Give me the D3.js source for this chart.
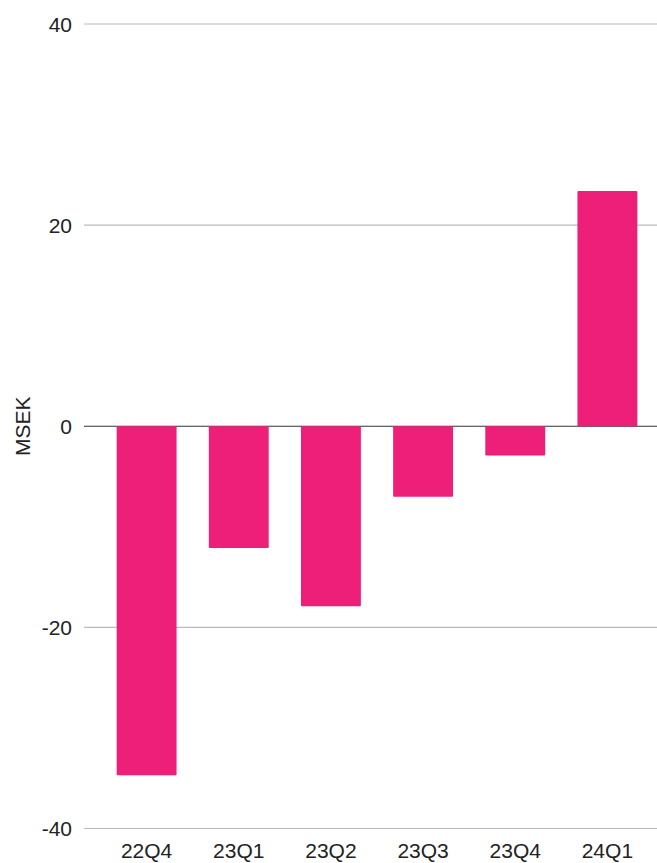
<html>
<head>
    <script src="https://d3js.org/d3.v7.min.js"></script>
    <style>
        body { margin: 0; background: #fff; }
        text { font-family: "Liberation Sans", Arial, sans-serif; fill: #222; }
    </style>
</head>
<body>
    <svg id="plot" width="657" height="863"></svg>
    <script>
        const quarters = ["22Q4", "23Q1", "23Q2", "23Q3", "23Q4", "24Q1"];
        const values = [-34.7, -12.1, -17.9, -7.0, -2.9, 23.4];
        const yTicks = [-40, -20, 0, 20, 40];

        const svg = d3.select("#plot");
        const margin = { top: 24, right: 0, bottom: 34.5, left: 84 };
        const width = +svg.attr("width");
        const height = +svg.attr("height");

        const x = d3.scaleBand()
            .domain(quarters)
            .range([101, width - 4])
            .paddingInner(0.35)
            .paddingOuter(0.17);

        const y = d3.scaleLinear()
            .domain([-40, 40])
            .range([height - margin.bottom, margin.top]);

        // gridlines
        svg.append("g")
            .selectAll("line")
            .data(yTicks)
            .join("line")
            .attr("x1", margin.left)
            .attr("x2", width)
            .attr("y1", d => y(d))
            .attr("y2", d => y(d))
            .attr("stroke", d => d === 0 ? "#333" : "#bbb")
            .attr("stroke-width", 1.2);

        // y tick labels
        svg.append("g")
            .selectAll("text")
            .data(yTicks)
            .join("text")
            .attr("x", 72)
            .attr("y", d => y(d))
            .attr("dy", "0.36em")
            .attr("text-anchor", "end")
            .attr("font-size", 21)
            .text(d => d);

        // bars
        svg.append("g")
            .selectAll("rect")
            .data(values)
            .join("rect")
            .attr("x", (d, i) => x(quarters[i]))
            .attr("width", x.bandwidth())
            .attr("y", d => y(Math.max(0, d)))
            .attr("height", d => Math.abs(y(d) - y(0)))
            .attr("rx", 1)
            .attr("fill", "#ED1F79");

        // x labels
        svg.append("g")
            .selectAll("text")
            .data(quarters)
            .join("text")
            .attr("x", d => x(d) + x.bandwidth() / 2)
            .attr("y", 858)
            .attr("text-anchor", "middle")
            .attr("font-size", 21)
            .text(d => d);

        // axis title
        svg.append("text")
            .attr("transform", "translate(30," + y(0) + ") rotate(-90)")
            .attr("text-anchor", "middle")
            .attr("font-size", 21)
            .text("MSEK");
    </script>
</body>
</html>
